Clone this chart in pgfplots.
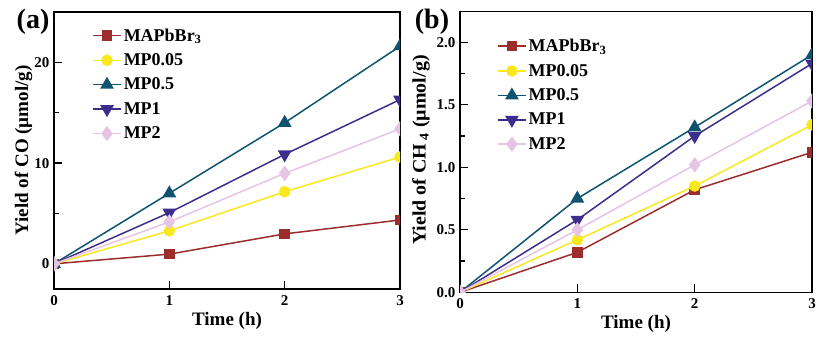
\documentclass[border=0pt]{standalone}
\usepackage{fontspec}
\setmainfont{Liberation Serif}
\usepackage{pgfplots}
\pgfplotsset{compat=1.18}
\definecolor{cMA}{HTML}{9B2D2D}
\definecolor{cY}{HTML}{FAE81E}
\definecolor{cT}{HTML}{0E5470}
\definecolor{cI}{HTML}{3B2E8C}
\definecolor{cP}{HTML}{E6C4E4}
\pgfplotsset{
  myax/.style={
    scale only axis,
    anchor=south west,
    axis line style={line width=1.4bp},
    xmin=0, xmax=3,
    xtick={0,1,2,3},
    xtick pos=bottom, ytick pos=left,
    tick align=inside,
    minor y tick num=1,
    major tick length=8bp, minor tick length=5bp,
    every tick/.style={black, line width=1.2bp},
    /pgf/number format/assume math mode=true,
    ticklabel style={font=\fontsize{15bp}{17bp}\selectfont\bfseries},
    xticklabel style={yshift=-3bp},
    yticklabel style={xshift=-1bp},
    label style={font=\fontsize{19bp}{22bp}\selectfont\bfseries},
    xlabel={Time (h)},
    clip marker paths=true,
    legend cell align=left,
    legend style={draw=none, fill=none, font=\fontsize{18bp}{20bp}\selectfont\bfseries,
      row sep=7bp, inner sep=0pt},
    legend image code/.code={\draw[mark repeat=2,mark phase=2] plot coordinates {(0bp,0bp) (14bp,0bp) (28bp,0bp)};},
    every axis plot/.append style={line width=1.5bp},
  },
  sMA/.style={color=cMA, mark=square*, mark size=4.5bp, mark options={solid}},
  sY/.style={color=cY, mark=*, mark size=5bp},
  sT/.style={color=cT, mark=triangle*, mark size=6.5bp},
  sI/.style={color=cI, mark=triangle*, mark options={rotate=180}, mark size=6.5bp},
  sP/.style={color=cP, mark=diamond*, mark size=6.5bp},
}
\begin{document}
\begin{tikzpicture}[x=1bp,y=1bp]
\path[use as bounding box] (0,0) rectangle (818,340);
\begin{axis}[myax,
  at={(54bp,51bp)}, width=346bp, height=277bp,
  ymin=-2.5, ymax=25, ytick={0,10,20},
  ylabel={Yield of CO (µmol/g)},
  ylabel style={at={(axis description cs:-0.088,0.5)}, anchor=center},
  legend style={at={(axis description cs:0.11,0.948)}, anchor=north west},
]
\addplot[sMA] coordinates {(0,0) (1,0.96) (2,2.97) (3,4.35)};
\addlegendentry{MAPbBr\textsubscript{3}}
\addplot[sY] coordinates {(0,0) (1,3.27) (2,7.16) (3,10.6)};
\addlegendentry{MP0.05}
\addplot[sT] coordinates {(0,0) (1,7.0) (2,14.0) (3,21.6)};
\addlegendentry{MP0.5}
\addplot[sI] coordinates {(0,0) (1,5.08) (2,10.86) (3,16.3)};
\addlegendentry{MP1}
\addplot[sP] coordinates {(0,0) (1,4.16) (2,8.98) (3,13.4)};
\addlegendentry{MP2}
\end{axis}
\node[font=\fontsize{28bp}{30bp}\selectfont\bfseries] at (33bp,318bp) {(a)};
\begin{axis}[myax,
  at={(460bp,47.7bp)}, width=352bp, height=280.5bp,
  ymin=0, ymax=2.244, ytick={0,0.5,1,1.5,2},
  yticklabel style={/pgf/number format/.cd, fixed, fixed zerofill, precision=1},
  ylabel={Yield of CH\,\textsubscript{4} (µmol/g)},
  ylabel style={at={(axis description cs:-0.111,0.507)}, anchor=center, xscale=1.05},
  legend style={at={(axis description cs:0.105,0.91)}, anchor=north west},
]
\addplot[sMA] coordinates {(0,0) (1,0.32) (2,0.82) (3,1.12)};
\addlegendentry{MAPbBr\textsubscript{3}}
\addplot[sY] coordinates {(0,0) (1,0.42) (2,0.85) (3,1.34)};
\addlegendentry{MP0.05}
\addplot[sT] coordinates {(0,0) (1,0.75) (2,1.32) (3,1.90)};
\addlegendentry{MP0.5}
\addplot[sI] coordinates {(0,0) (1,0.58) (2,1.25) (3,1.83)};
\addlegendentry{MP1}
\addplot[sP] coordinates {(0,0) (1,0.50) (2,1.02) (3,1.53)};
\addlegendentry{MP2}
\end{axis}
\node[font=\fontsize{28bp}{30bp}\selectfont\bfseries] at (432bp,318bp) {(b)};
\end{tikzpicture}
\end{document}
